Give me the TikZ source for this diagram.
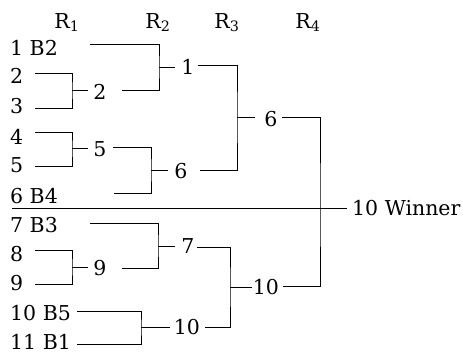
\documentclass[tikz,border=0pt]{standalone}
\usepackage{fontspec}
\setmainfont{DejaVu Serif}
\begin{document}
\begin{tikzpicture}[x=1pt,y=-1pt,
  lab/.style={font=\fontsize{20.5}{24}\selectfont, inner sep=0pt},
  hdr/.style={lab, anchor=base},
  seed/.style={lab, anchor=west},
  win/.style={lab, anchor=center},
  br/.style={line width=0.9pt, line join=miter}]
\useasboundingbox (0,0) rectangle (463,356);
% headers
\node[hdr] (h1) at (67,28) {R\textsubscript{1}};
\node[hdr] (h2) at (158,28) {R\textsubscript{2}};
\node[hdr] (h3) at (227,28) {R\textsubscript{3}};
\node[hdr] (h4) at (308,28) {R\textsubscript{4}};
% seeds
\node[seed] (s1) at (10,48) {1 B2};
\node[seed] (s2) at (10,76) {2};
\node[seed] (s3) at (10,106) {3};
\node[seed] (s4) at (10,137) {4};
\node[seed] (s5) at (10,165) {5};
\node[seed] (s6) at (10,196) {6 B4};
\node[seed] (s7) at (10,225) {7 B3};
\node[seed] (s8) at (10,254) {8};
\node[seed] (s9) at (10,283) {9};
\node[seed] (s10) at (10,313) {10 B5};
\node[seed] (s11) at (10,342) {11 B1};
% round winners
\node[win] (w2) at (100,92) {2};
\node[win] (w5) at (100,149) {5};
\node[win] (w9) at (100,268) {9};
\node[win] (w1) at (188,67) {1};
\node[win] (w6) at (181,171) {6};
\node[win] (w7) at (188,246) {7};
\node[win] (w10) at (187,327) {10};
\node[win] (x6) at (271,119) {6};
\node[win] (x10) at (266,287) {10};
\node[lab, anchor=west] (champ) at (352,208) {10 Winner};
% line ends
\coordinate (a2) at (35,73);   \coordinate (a3) at (35,108);
\coordinate (j23) at (72,90);  \coordinate (e2) at (88,90);
\coordinate (a4) at (35,132);  \coordinate (a5) at (35,166);
\coordinate (j45) at (72,148); \coordinate (e5) at (88,148);
\coordinate (a8) at (35,250);  \coordinate (a9) at (35,284);
\coordinate (j89) at (72,267); \coordinate (e9) at (88,267);
\coordinate (a10) at (77,311); \coordinate (a11) at (77,344);
\coordinate (j1011) at (141,327); \coordinate (e10) at (170,327);
\coordinate (a1) at (90,44);   \coordinate (b2) at (122,90);
\coordinate (j12) at (159,67); \coordinate (e1) at (175,67);
\coordinate (b5) at (113,147); \coordinate (a6) at (114,193);
\coordinate (j56) at (151,170); \coordinate (e6) at (168,170);
\coordinate (a7) at (90,223);  \coordinate (b9) at (122,268);
\coordinate (j79) at (158,246); \coordinate (e7) at (175,246);
\coordinate (c1) at (198,65);  \coordinate (c6) at (200,170);
\coordinate (j16) at (237,117); \coordinate (f6) at (255,117);
\coordinate (c7) at (197,247); \coordinate (c10) at (205,327);
\coordinate (j710) at (230,287); \coordinate (f10) at (252,287);
\coordinate (d6) at (282,117); \coordinate (d10) at (283,286);
\coordinate (jf) at (320,208);
\coordinate (sepL) at (12,208); \coordinate (sepR) at (347,208);
% brackets
\draw[br] (a2) -| (j23) |- (a3); \draw[br] (j23) -- (e2);
\draw[br] (a4) -| (j45) |- (a5); \draw[br] (j45) -- (e5);
\draw[br] (a8) -| (j89) |- (a9); \draw[br] (j89) -- (e9);
\draw[br] (a10) -| (j1011) |- (a11); \draw[br] (j1011) -- (e10);
\draw[br] (a1) -| (j12) |- (b2); \draw[br] (j12) -- (e1);
\draw[br] (b5) -| (j56) |- (a6); \draw[br] (j56) -- (e6);
\draw[br] (a7) -| (j79) |- (b9); \draw[br] (j79) -- (e7);
\draw[br] (c1) -| (j16) |- (c6); \draw[br] (j16) -- (f6);
\draw[br] (c7) -| (j710) |- (c10); \draw[br] (j710) -- (f10);
\draw[br] (d6) -| (jf) |- (d10);
\draw[br] (sepL) -- (sepR);
\end{tikzpicture}
\end{document}
